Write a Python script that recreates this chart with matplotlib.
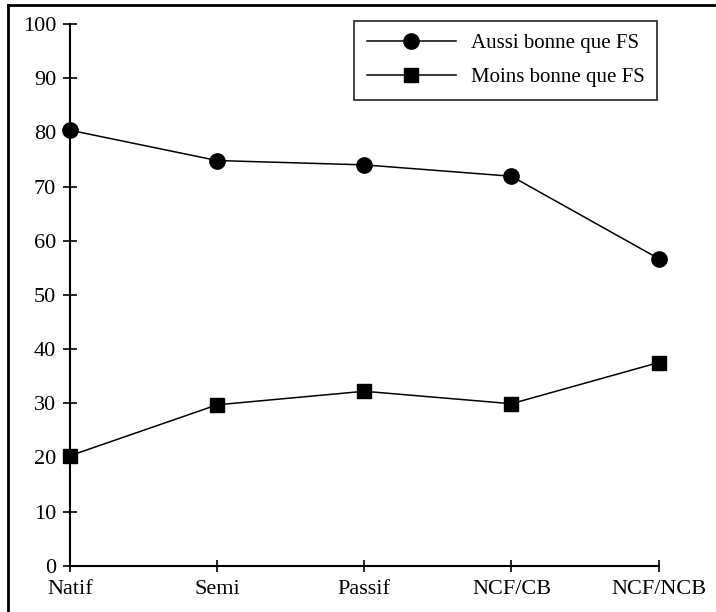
import matplotlib
matplotlib.use("Agg")
import matplotlib.pyplot as plt
from matplotlib.lines import Line2D

categories = ["Natif", "Semi", "Passif", "NCF/CB", "NCF/NCB"]
aussi_bonne = [80.4, 74.8, 74.0, 71.9, 56.7]
moins_bonne = [20.3, 29.7, 32.2, 29.9, 37.5]
series_labels = ["Aussi bonne que FS", "Moins bonne que FS"]
y_ticks = [0, 10, 20, 30, 40, 50, 60, 70, 80, 90, 100]

plt.rcParams['font.family'] = ['Liberation Serif', 'DejaVu Serif']

fig = plt.figure(figsize=(7.16, 6.12), dpi=100)
ax = fig.add_axes([0.0978, 0.0757, 0.822, 0.885])

x = list(range(len(categories)))
ax.plot(x, aussi_bonne, color='black', lw=1.1, marker='o', ms=11,
        markerfacecolor='black', markeredgecolor='black', clip_on=False, zorder=3,
        label=series_labels[0])
ax.plot(x, moins_bonne, color='black', lw=1.1, marker='s', ms=10,
        markerfacecolor='black', markeredgecolor='black', clip_on=False, zorder=3,
        label=series_labels[1])

ax.set_xlim(0, len(categories) - 1)
ax.set_ylim(0, 100)
ax.set_xticks(x)
ax.set_xticklabels(categories, fontsize=16)
ax.set_yticks(y_ticks)
ax.set_yticklabels([str(v) for v in y_ticks], fontsize=16)

for s in ['top', 'right']:
    ax.spines[s].set_visible(False)
for s in ['left', 'bottom']:
    ax.spines[s].set_linewidth(1.5)
ax.tick_params(axis='y', direction='inout', length=10, width=1.2, pad=5)
ax.tick_params(axis='x', direction='inout', length=9, width=1.2, pad=6)

leg = ax.legend(loc='upper right', bbox_to_anchor=(657/716, 1 - 21/612),
                bbox_transform=fig.transFigure, fontsize=15, frameon=True,
                fancybox=False, handlelength=4.3, borderpad=0.6,
                labelspacing=0.7, handletextpad=0.7, borderaxespad=0)
leg.get_frame().set_edgecolor('black')
leg.get_frame().set_linewidth(1.3)

# figure border (left and top visible)
fig.add_artist(Line2D([8/716, 8/716], [0, 1 - 5/612], color='black', lw=2,
                      transform=fig.transFigure))
fig.add_artist(Line2D([8/716, 1], [1 - 5/612, 1 - 5/612], color='black', lw=2,
                      transform=fig.transFigure))

fig.savefig("out.png", dpi=100)
